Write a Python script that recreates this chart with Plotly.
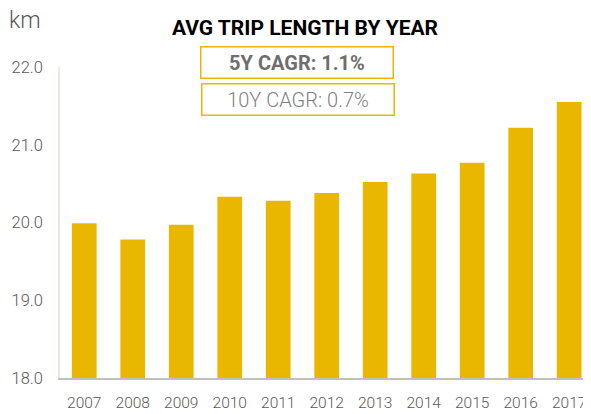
import plotly.graph_objects as go

years = ["2007", "2008", "2009", "2010", "2011", "2012", "2013", "2014", "2015", "2016", "2017"]
trip_km = [19.99, 19.78, 19.97, 20.33, 20.28, 20.38, 20.52, 20.63, 20.77, 21.22, 21.55]
y_ticks = [18.0, 19.0, 20.0, 21.0, 22.0]
title_text = "AVG TRIP LENGTH BY YEAR"
cagr5 = "5Y CAGR: 1.1%"
cagr10 = "10Y CAGR: 0.7%"
unit = "km"

FONT = "Roboto, sans-serif"
GOLD = "#EAB700"

fig = go.Figure(go.Bar(x=years, y=trip_km, marker_color=GOLD, width=0.51,
                       marker_line_width=0))

OFF = 8  # page body margin
W, H = 591 - OFF, 414 - OFF
L, R, T, B = 60 - OFF, 0, 67 - OFF, 36
pw, ph = W - L - R, H - T - B

def px(xp):
    return (xp - OFF - L) / pw

def py(yp):
    return (H - B - (yp - OFF)) / ph

fig.update_layout(
    width=W, height=H,
    margin=dict(l=L, r=R, t=T, b=B),
    plot_bgcolor="white", paper_bgcolor="white",
    showlegend=False,
    font=dict(family=FONT, color="#595959", size=17),
    title=dict(text="<b>" + title_text + "</b>", x=(305 - OFF) / W, xanchor="center",
               y=1 - (28 - OFF) / H, yanchor="middle", yref="container",
               font=dict(family=FONT, size=21, color="black")),
    xaxis=dict(type="category", range=[-0.5, 10.45], showgrid=False,
               showline=True, linecolor="#BFBFBF", linewidth=2, ticks="",
               ticklabelstandoff=9, ticklabeloverflow="allow",
               tickfont=dict(size=15.5, color="#595959", weight=300)),
    yaxis=dict(range=[18, 22], tickvals=y_ticks, tickformat=".1f", showgrid=False,
               showline=True, linecolor="#EEE9DF", linewidth=1.5, ticks="",
               zeroline=False, ticklabelstandoff=12,
               tickfont=dict(size=16.5, color="#595959", weight=300)),
    annotations=[
        dict(text=unit, xref="paper", yref="paper", x=px(25), y=py(21),
             xanchor="center", yanchor="middle", showarrow=False,
             font=dict(family=FONT, size=23, color="#595959", weight=300)),
        dict(text="<b>" + cagr5 + "</b>", xref="paper", yref="paper",
             x=px(296.5), y=py(63), xanchor="center", yanchor="middle",
             showarrow=False, width=189, height=28, borderpad=1,
             bordercolor=GOLD, borderwidth=1.5, bgcolor="white",
             font=dict(family=FONT, size=20, color="#6E6E6E")),
        dict(text=cagr10, xref="paper", yref="paper",
             x=px(297.5), y=py(99.5), xanchor="center", yanchor="middle",
             showarrow=False, width=189, height=28, borderpad=1,
             bordercolor=GOLD, borderwidth=1.5, bgcolor="white",
             font=dict(family=FONT, size=20, color="#7F7F7F", weight=300)),
    ],
)

fig.write_html("out.html")
